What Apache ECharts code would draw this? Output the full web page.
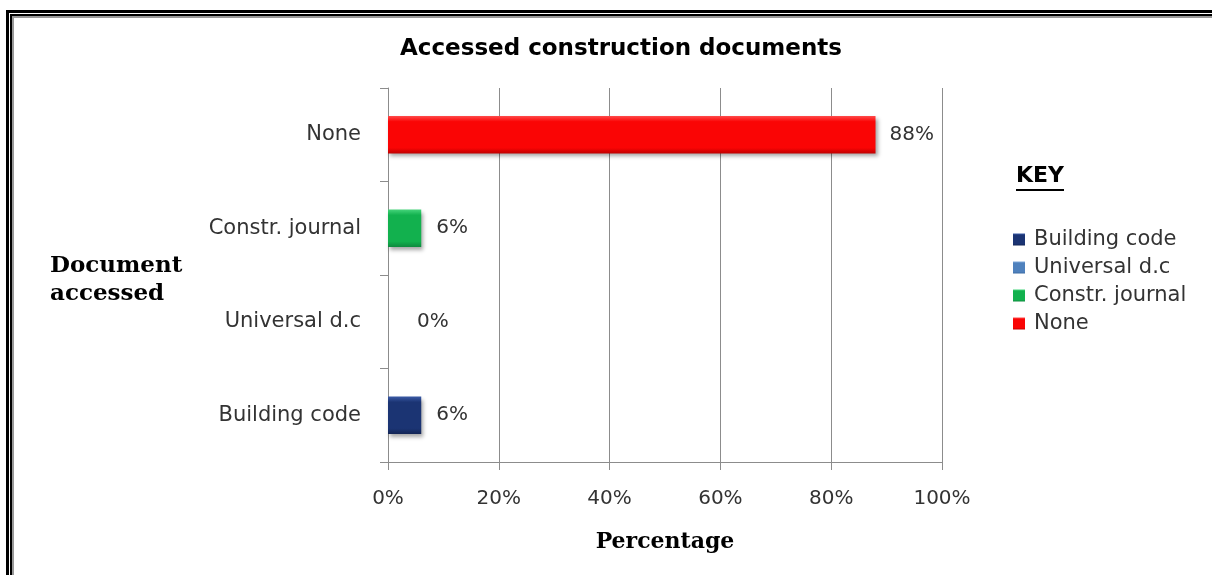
<!DOCTYPE html>
<html>
<head>
<meta charset="utf-8">
<script src="https://cdn.jsdelivr.net/npm/echarts@6/dist/echarts.min.js"></script>
<style>
html,body{margin:0;padding:0;background:#fff;}
#chart{width:1212px;height:575px;}
</style>
</head>
<body>
<div id="chart"></div>
<script>
// ---- data ----
var categories = ['Building code', 'Universal d.c', 'Constr. journal', 'None'];
var seriesNames = ['Building code', 'Universal d.c', 'Constr. journal', 'None'];
var values = [6, 0, 6, 88];
var xTicks = [0, 20, 40, 60, 80, 100];

// ---- styles ----
var colors = ['#1B3473', '#4F81BD', '#12B14E', '#FA0505'];
var colorsLight = ['#3A5AA6', '#7FA8DA', '#45D47A', '#FF4A4A'];
var colorsDark = ['#132555', '#3A6AA3', '#0E8A3E', '#C00000'];
var labelDistances = [15, 29, 15, 14];
var font = '"DejaVu Sans", sans-serif';
var serif = '"DejaVu Serif", serif';

var chart = echarts.init(document.getElementById('chart'), null, {renderer: 'canvas'});

var series = seriesNames.map(function (name, i) {
  var data = categories.map(function (c, j) {
    if (j !== i) return '-';
    return {
      value: values[i],
      label: {distance: labelDistances[i]}
    };
  });
  return {
    name: name,
    type: 'bar',
    stack: 'all',
    barWidth: '40%',
    data: data,
    itemStyle: {
      color: new echarts.graphic.LinearGradient(0, 0, 0, 1, [
        {offset: 0, color: colorsLight[i]},
        {offset: 0.15, color: colors[i]},
        {offset: 0.85, color: colors[i]},
        {offset: 1, color: colorsDark[i]}
      ]),
      shadowColor: 'rgba(0,0,0,0.35)',
      shadowBlur: 4,
      shadowOffsetX: 2,
      shadowOffsetY: 3
    },
    label: {
      show: true,
      position: 'right',
      formatter: '{c}%',
      color: '#333',
      fontFamily: font,
      fontSize: 20
    }
  };
});

var option = {
  animation: false,
  color: colors,
  title: {
    text: 'Accessed construction documents',
    left: 616,
    textAlign: 'center',
    top: 33,
    textStyle: {fontFamily: font, fontWeight: 'bold', fontSize: 23, color: '#000'}
  },
  legend: {
    orient: 'vertical',
    left: 1013,
    top: 229,
    padding: 0,
    itemWidth: 12,
    itemHeight: 12,
    itemGap: 7,
    icon: 'rect',
    data: seriesNames,
    textStyle: {fontFamily: font, fontSize: 21, lineHeight: 21, color: '#333', padding: [0, 0, 0, 4]}
  },
  grid: {left: 388, right: 270, top: 88, bottom: 113},
  xAxis: {
    type: 'value',
    min: 0,
    max: 100,
    interval: 20,
    name: 'Percentage',
    nameLocation: 'middle',
    nameGap: 69,
    nameTextStyle: {fontFamily: serif, fontWeight: 'bold', fontSize: 22, color: '#000'},
    axisLine: {show: true, lineStyle: {color: '#8c8c8c'}},
    axisTick: {show: true, length: 8, lineStyle: {color: '#8c8c8c'}},
    axisLabel: {formatter: '{value}%', fontFamily: font, fontSize: 20, color: '#333', margin: 27},
    splitLine: {show: true, lineStyle: {color: '#8c8c8c'}}
  },
  yAxis: {
    type: 'category',
    data: categories,
    axisLine: {show: true, lineStyle: {color: '#8c8c8c'}},
    axisTick: {show: true, length: 8, lineStyle: {color: '#8c8c8c'}},
    axisLabel: {fontFamily: font, fontSize: 21, color: '#333', margin: 27}
  },
  graphic: [
    {type: 'rect', shape: {x: 7.5, y: 11.5, width: 1300, height: 700}, style: {fill: 'none', stroke: '#000', lineWidth: 3}, silent: true},
    {type: 'rect', shape: {x: 11, y: 15, width: 1300, height: 700}, style: {fill: 'none', stroke: '#000', lineWidth: 2}, silent: true},
    {type: 'rect', shape: {x: 13, y: 17, width: 1300, height: 700}, style: {fill: 'none', stroke: '#999', lineWidth: 2}, silent: true},
    {type: 'text', left: 50, top: 252, style: {text: 'Document\naccessed', fontFamily: serif, fontWeight: 'bold', fontSize: 23, lineHeight: 28, fill: '#000'}},
    {type: 'text', left: 1016, top: 165, style: {text: 'KEY', fontFamily: font, fontWeight: 'bold', fontSize: 22, fill: '#000'}},
    {type: 'line', shape: {x1: 1016, y1: 190, x2: 1064, y2: 190}, style: {stroke: '#000', lineWidth: 2}}
  ],
  series: series
};
chart.setOption(option);
</script>
</body>
</html>
